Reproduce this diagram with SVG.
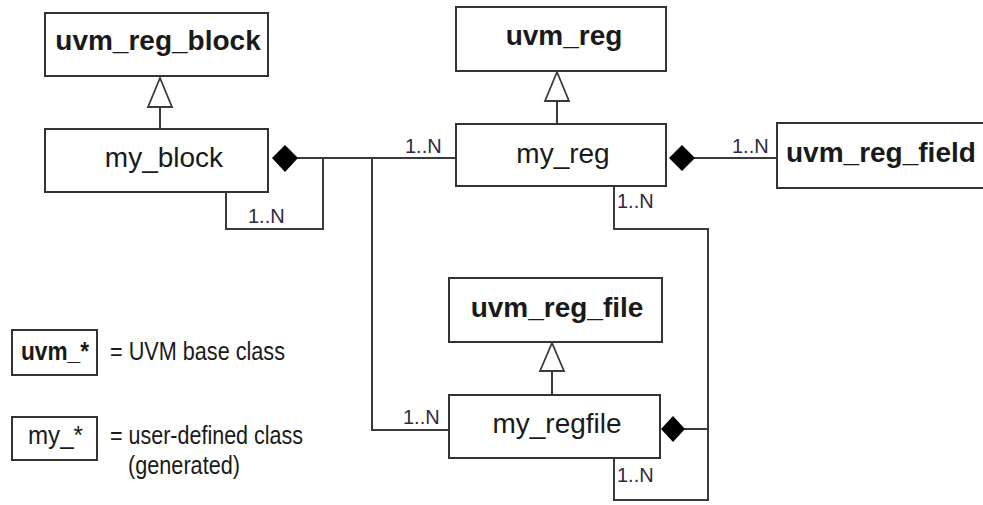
<svg xmlns="http://www.w3.org/2000/svg" width="983" height="505" viewBox="0 0 983 505">
<style>
.box{fill:#fff;stroke:#333;stroke-width:2}
.ln{fill:none;stroke:#3a3a3a;stroke-width:2}
.tri{fill:#fff;stroke:#3a3a3a;stroke-width:1.8}
.dia{fill:#000;stroke:none}
.b{font-family:"Liberation Sans",Arial,sans-serif;font-size:28px;font-weight:bold;fill:#1a1a1a}
.r{font-family:"Liberation Sans",Arial,sans-serif;font-size:28px;fill:#1a1a1a}
.m{font-family:"Liberation Sans",Arial,sans-serif;font-size:20px;fill:#2e2a40}
.lg{font-family:"Liberation Sans",Arial,sans-serif;font-size:25px;fill:#1a1a1a}
.lgb{font-family:"Liberation Sans",Arial,sans-serif;font-size:25px;font-weight:bold;fill:#1a1a1a}
</style>
<rect width="983" height="505" fill="#fff"/>
<g id="connectors">
  <line class="ln" x1="160" y1="107" x2="160" y2="129"/>
  <polygon class="tri" points="160,78 148,107 172,107"/>
  <line class="ln" x1="557" y1="101" x2="557" y2="124"/>
  <polygon class="tri" points="557,72 545,101 569,101"/>
  <line class="ln" x1="552" y1="371" x2="552" y2="395"/>
  <polygon class="tri" points="552,343 540,371 564,371"/>
  <line class="ln" x1="297" y1="158" x2="456" y2="158"/>
  <polygon class="dia" points="272,158 285,145 298,158 285,172"/>
  <polyline class="ln" points="323,158 323,229 226,229 226,192"/>
  <text class="m" x="248" y="223">1..N</text>
  <text class="m" x="405" y="153">1..N</text>
  <polyline class="ln" points="372,158 372,430 449,430"/>
  <text class="m" x="403" y="424">1..N</text>
  <line class="ln" x1="694" y1="158" x2="777" y2="158"/>
  <polygon class="dia" points="669,158 682,145 695,158 682,171"/>
  <text class="m" x="732" y="153">1..N</text>
  <polyline class="ln" points="614,186 614,229 708,229 708,500 614,500 614,458"/>
  <text class="m" x="617" y="208">1..N</text>
  <text class="m" x="617" y="482">1..N</text>
  <line class="ln" x1="684" y1="429" x2="708" y2="429"/>
  <polygon class="dia" points="661,429 673,416 685,429 673,442"/>
</g>
<g id="uvm_reg_block">
  <rect class="box" x="45" y="13" width="223" height="63"/>
  <text class="b" x="158" y="50" text-anchor="middle">uvm_reg_block</text>
</g>
<g id="my_block">
  <rect class="box" x="45" y="129" width="223" height="63"/>
  <text class="r" x="164" y="167" text-anchor="middle">my_block</text>
</g>
<g id="uvm_reg">
  <rect class="box" x="456" y="7" width="210" height="64"/>
  <text class="b" x="564" y="45" text-anchor="middle">uvm_reg</text>
</g>
<g id="my_reg">
  <rect class="box" x="456" y="124" width="210" height="62"/>
  <text class="r" x="563" y="163" text-anchor="middle">my_reg</text>
</g>
<g id="uvm_reg_field">
  <rect class="box" x="777" y="123" width="220" height="65"/>
  <text class="b" x="786" y="162">uvm_reg_field</text>
</g>
<g id="uvm_reg_file">
  <rect class="box" x="449" y="278" width="213" height="64"/>
  <text class="b" x="557" y="317" text-anchor="middle">uvm_reg_file</text>
</g>
<g id="my_regfile">
  <rect class="box" x="449" y="395" width="211" height="63"/>
  <text class="r" x="557" y="433" text-anchor="middle">my_regfile</text>
</g>
<g id="legend">
  <rect class="box" x="12" y="330" width="85" height="45"/>
  <text class="lgb" x="21" y="360" textLength="68" lengthAdjust="spacingAndGlyphs">uvm_*</text>
  <text class="lg" x="110" y="360" textLength="175" lengthAdjust="spacingAndGlyphs">= UVM base class</text>
  <rect class="box" x="12" y="417" width="85" height="43"/>
  <text class="lg" x="28" y="444" textLength="55" lengthAdjust="spacingAndGlyphs">my_*</text>
  <text class="lg" x="110" y="444" textLength="193" lengthAdjust="spacingAndGlyphs">= user-defined class</text>
  <text class="lg" x="128" y="474" textLength="112" lengthAdjust="spacingAndGlyphs">(generated)</text>
</g>
</svg>
